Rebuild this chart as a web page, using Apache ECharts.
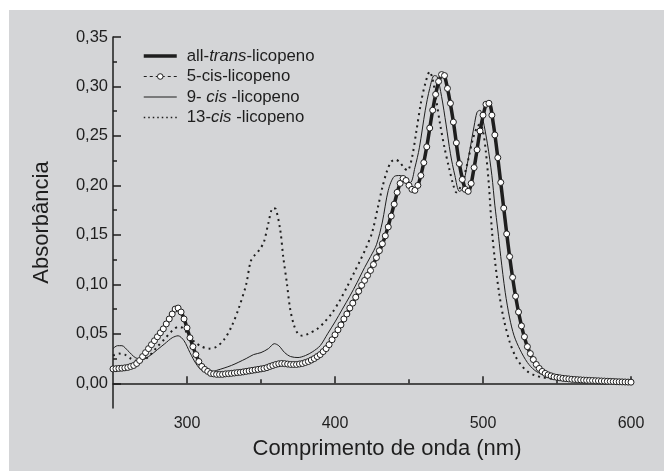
<!DOCTYPE html>
<html><head><meta charset="utf-8">
<script src="https://cdn.jsdelivr.net/npm/echarts@6/dist/echarts.min.js"></script>
<style>
html,body{margin:0;padding:0;background:#fff;}
#bg{position:absolute;left:9px;top:10px;right:0;bottom:3px;background:#d4d5d7;}
#c{position:absolute;left:0;top:0;width:664px;height:474px;}
</style></head>
<body><div id="bg"></div><div id="c"></div>
<script>
// ---- data ----
const seriesNames = ['all-trans-licopeno', '5-cis-licopeno', '9-cis-licopeno', '13-cis-licopeno'];

const transNm = [250,260,268,275,282,288,293,297,301,305,310,316,325,340,355,364,372,380,390,398,405,412,420,428,434,440,444,447,450,454,458,462,466,470,473,476,480,484,488,490,494,498,502,504,507,510,514,518,522,526,530,535,540,545,555,570,585,600];
const transVal = [0.014,0.016,0.023,0.037,0.051,0.065,0.076,0.069,0.051,0.033,0.017,0.010,0.009,0.012,0.016,0.020,0.019,0.021,0.029,0.044,0.062,0.081,0.104,0.127,0.149,0.181,0.202,0.207,0.200,0.195,0.210,0.239,0.276,0.305,0.313,0.298,0.264,0.222,0.196,0.194,0.218,0.255,0.282,0.284,0.262,0.228,0.177,0.128,0.088,0.058,0.037,0.021,0.012,0.008,0.005,0.003,0.002,0.001];

const cis5Nm = [250,252,254,256,258,260,262,264,266,268,270,272,274,276,278,280,282,284,286,288,290,292,294,296,298,300,302,304,306,308,310,312,314,316,318,320,322,324,326,328,330,332,334,336,338,340,342,344,346,348,350,352,354,356,358,360,362,364,366,368,370,372,374,376,378,380,382,384,386,388,390,392,394,396,398,400,402,404,406,408,410,412,414,416,418,420,422,424,426,428,430,432,434,436,438,440,442,444,446,448,450,452,454,456,458,460,462,464,466,468,470,472,474,476,478,480,482,484,486,488,490,492,494,496,498,500,502,504,506,508,510,512,514,516,518,520,522,524,526,528,530,532,534,536,538,540,542,544,546,548,550,552,554,556,558,560,562,564,566,568,570,572,574,576,578,580,582,584,586,588,590,592,594,596,598,600];
const cis5Val = [0.0145,0.0147,0.015,0.0152,0.0156,0.016,0.017,0.018,0.020,0.023,
0.027,0.031,0.035,0.039,0.043,0.047,0.051,0.055,0.060,0.065,
0.070,0.075,0.076,0.072,0.065,0.056,0.046,0.037,0.029,0.022,
0.017,0.014,0.012,0.010,0.0095,0.009,0.009,0.009,0.0095,0.0097,
0.010,0.0104,0.0108,0.011,0.0115,0.012,0.0125,0.013,0.0135,0.014,
0.0145,0.015,0.0158,0.017,0.018,0.019,0.0197,0.020,0.0198,0.0194,
0.019,0.019,0.019,0.0195,0.020,0.021,0.022,0.0235,0.025,0.027,
0.029,0.032,0.035,0.039,0.044,0.049,0.054,0.059,0.065,0.070,
0.076,0.081,0.087,0.093,0.099,0.104,0.109,0.114,0.120,0.127,
0.134,0.141,0.149,0.158,0.169,0.181,0.193,0.202,0.207,0.205,
0.200,0.196,0.195,0.200,0.210,0.223,0.239,0.258,0.276,0.292,
0.305,0.312,0.311,0.298,0.283,0.264,0.243,0.222,0.206,0.196,
0.194,0.202,0.218,0.236,0.255,0.271,0.282,0.283,0.271,0.251,
0.228,0.203,0.177,0.151,0.128,0.107,0.088,0.072,0.058,0.047,
0.037,0.030,0.024,0.019,0.015,0.012,0.010,0.0085,0.0075,0.0065,
0.006,0.0055,0.005,0.0047,0.0044,0.004,0.0038,0.0036,0.0034,0.0032,
0.003,0.0029,0.0028,0.0026,0.0025,0.0023,0.0022,0.002,0.0019,0.0018,
0.0016,0.0015,0.0014,0.0013,0.0012,0.0011];

const cis9Nm = [250,253,256,260,265,270,275,280,285,290,294,298,302,306,310,315,320,330,340,345,350,355,359,362,366,370,375,380,385,390,395,400,405,410,415,420,424,428,432,436,440,444,448,451,454,457,461,464,467,469,472,475,478,481,484,486,488,491,494,496,498,500,503,506,508,510,512,515,518,521,525,530,535,540,545,555,570,585,600];
const cis9Val = [0.035,0.038,0.038,0.033,0.026,0.024,0.028,0.034,0.040,0.046,0.048,0.043,0.031,0.020,0.013,0.011,0.013,0.018,0.025,0.029,0.031,0.035,0.040,0.038,0.031,0.027,0.026,0.028,0.032,0.038,0.050,0.062,0.075,0.088,0.102,0.117,0.128,0.140,0.163,0.195,0.209,0.210,0.205,0.203,0.218,0.238,0.276,0.298,0.311,0.310,0.290,0.262,0.232,0.210,0.194,0.196,0.210,0.235,0.260,0.274,0.276,0.266,0.242,0.210,0.180,0.155,0.128,0.092,0.066,0.048,0.034,0.021,0.013,0.009,0.007,0.005,0.003,0.002,0.001];

const cis13Nm = [250,254,258,262,268,274,280,285,290,294,297,300,305,310,315,320,325,330,335,340,343,346,349,352,355,358,360,363,365,367.5,369.5,372,375,378,382,388,393,398,403,408,413,417,421,425,429,432,435,438,441,444,447,449,452,455,458,461,464,466,468,471,474,477,480,482,484,487,490,493,496,498,500,502,504,506,508,511,514,518,522,526,530,535,540,550,565,580,600];
const cis13Val = [0.028,0.030,0.029,0.025,0.022,0.027,0.037,0.045,0.053,0.057,0.056,0.051,0.042,0.037,0.035,0.037,0.044,0.057,0.076,0.100,0.123,0.130,0.135,0.143,0.162,0.177,0.176,0.155,0.128,0.101,0.077,0.060,0.050,0.048,0.050,0.055,0.062,0.071,0.083,0.097,0.112,0.124,0.137,0.152,0.178,0.198,0.214,0.224,0.226,0.223,0.217,0.215,0.228,0.255,0.283,0.303,0.315,0.307,0.290,0.262,0.238,0.218,0.200,0.193,0.196,0.208,0.226,0.246,0.259,0.262,0.255,0.233,0.200,0.155,0.125,0.090,0.065,0.042,0.027,0.018,0.012,0.008,0.006,0.004,0.003,0.002,0.001];

const xMajorTicks = [300, 400, 500, 600];
const xMinorTicks = [350, 450, 550];
const yMajorTicks = [0, 0.05, 0.10, 0.15, 0.20, 0.25, 0.30, 0.35];
const yMinorTicks = [0.025, 0.075, 0.125, 0.175, 0.225, 0.275, 0.325];

function zip(a, b) { return a.map((v, i) => [v, b[i]]); }

const ink = '#1e1e1e';
const font = '"Liberation Sans", Arial, Helvetica, sans-serif';
const chart = echarts.init(document.getElementById('c'), null, {renderer: 'canvas'});

const xBase = {type: 'value', min: 250, max: 600, position: 'bottom', splitLine: {show: false}};
const yBase = {type: 'value', min: -0.025, max: 0.35, position: 'left', offset: 0, splitLine: {show: false}};

chart.setOption({
  animation: false,
  backgroundColor: 'transparent',
  grid: {left: 113, right: 33, top: 37, bottom: 66},
  xAxis: [
    Object.assign({}, xBase, {
      name: 'Comprimento de onda (nm)', nameLocation: 'middle', nameGap: 30,
      nameTextStyle: {fontFamily: font, fontSize: 22, color: ink, padding: [0, 0, 0, 30]},
      axisLine: {show: true, lineStyle: {color: ink, width: 1.5}},
      axisTick: {show: true, inside: true, length: 7, customValues: xMajorTicks, lineStyle: {color: ink, width: 1.5}},
      axisLabel: {customValues: xMajorTicks, fontFamily: font, fontSize: 16, color: ink, margin: 8}
    }),
    Object.assign({}, xBase, {
      axisLine: {show: false},
      axisTick: {show: true, inside: true, length: 4, customValues: xMinorTicks, lineStyle: {color: ink, width: 1.5}},
      axisLabel: {show: false}
    })
  ],
  yAxis: [
    Object.assign({}, yBase, {
      name: 'Absorbância', nameLocation: 'middle', nameGap: 60, nameRotate: 90,
      nameTextStyle: {fontFamily: font, fontSize: 22, color: ink},
      axisLine: {show: true, lineStyle: {color: ink, width: 1.5}},
      axisTick: {show: true, inside: true, length: 8, customValues: yMajorTicks, lineStyle: {color: ink, width: 1.5}},
      axisLabel: {customValues: yMajorTicks, fontFamily: font, fontSize: 16.5, color: ink, margin: 5,
        formatter: v => v.toFixed(2).replace('.', ',')}
    }),
    Object.assign({}, yBase, {
      axisLine: {show: false},
      axisTick: {show: true, inside: true, length: 4, customValues: yMinorTicks, lineStyle: {color: ink, width: 1.5}},
      axisLabel: {show: false}
    })
  ],
  legend: {
    orient: 'vertical', left: 142, top: 47, padding: 0,
    itemWidth: 33, itemHeight: 7, itemGap: 2.5,
    textStyle: {fontFamily: font, fontSize: 16.8, color: ink, lineHeight: 18, padding: [0, 0, 0, 5],
      rich: {i: {fontStyle: 'italic', fontFamily: font, fontSize: 16.8, color: ink}}},
    formatter: function (name) {
      if (name === 'all-trans-licopeno') return 'all-{i|trans}-licopeno';
      if (name === '9-cis-licopeno') return '9- {i|cis} -licopeno';
      if (name === '13-cis-licopeno') return '13-{i|cis} -licopeno';
      return name;
    },
    data: [
      {name: seriesNames[0], itemStyle: {opacity: 0}, lineStyle: {width: 3.5, color: ink, type: 'solid'}},
      {name: seriesNames[1], itemStyle: {color: '#fff', borderColor: ink, borderWidth: 1}, lineStyle: {width: 1, color: ink, type: [3, 3]}},
      {name: seriesNames[2], itemStyle: {opacity: 0}, lineStyle: {width: 1, color: ink, type: 'solid'}},
      {name: seriesNames[3], itemStyle: {opacity: 0}, lineStyle: {width: 1.5, color: ink, type: [1.5, 3]}}
    ]
  },
  series: [
    {name: seriesNames[0], type: 'line', data: zip(transNm, transVal), showSymbol: false, symbol: 'none', smooth: 0.3, z: 2,
      lineStyle: {color: ink, width: 3.5}, itemStyle: {color: ink}},
    {name: seriesNames[2], type: 'line', data: zip(cis9Nm, cis9Val), showSymbol: false, symbol: 'none', smooth: 0.3, z: 3,
      lineStyle: {color: ink, width: 1}, itemStyle: {color: ink}},
    {name: seriesNames[3], type: 'line', data: zip(cis13Nm, cis13Val), showSymbol: false, symbol: 'none', smooth: 0.3, z: 3,
      lineStyle: {color: ink, width: 2, type: [2, 4]}, itemStyle: {color: ink}},
    {name: seriesNames[1], type: 'line', data: zip(cis5Nm, cis5Val), showSymbol: true, showAllSymbol: true, symbol: 'circle', symbolSize: 6, z: 4,
      lineStyle: {color: ink, width: 1, type: [4, 3]}, itemStyle: {color: '#ffffff', borderColor: ink, borderWidth: 1}}
  ]
});
</script>
</body></html>
